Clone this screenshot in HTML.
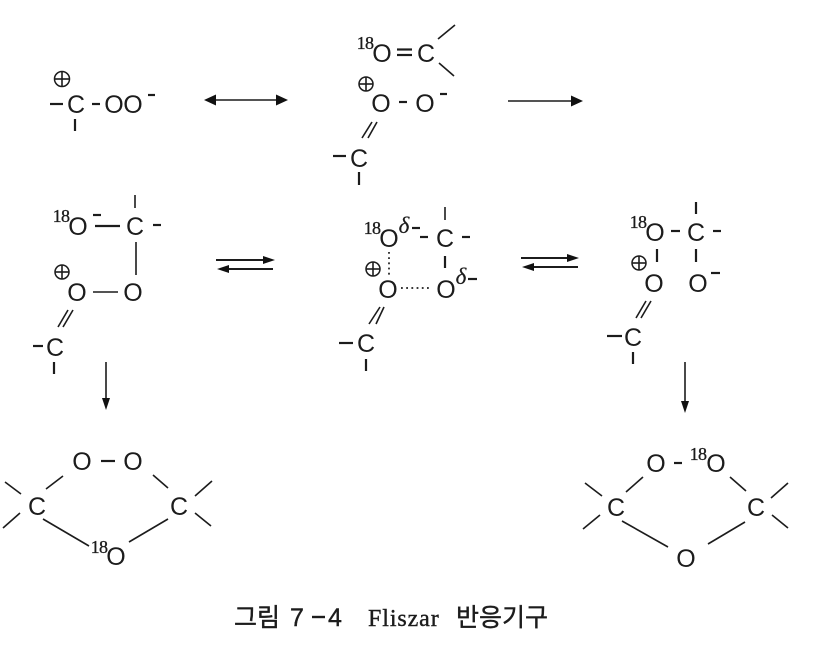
<!DOCTYPE html>
<html lang="ko">
<head>
<meta charset="utf-8">
<title>그림 7-4 Fliszar 반응기구</title>
<style>
html,body{margin:0;padding:0;background:#fff;width:838px;height:645px;overflow:hidden}
svg{display:block;filter:blur(.3px)}
line{stroke:#1c1c1c;stroke-width:1.6;fill:none}
line.h{stroke-width:2.2}
line.d{stroke-dasharray:1.8 3.4;stroke-width:1.7}
circle{stroke:#1c1c1c;stroke-width:1.5;fill:none}
polygon{fill:#111}
text{fill:#1c1c1c;font-family:"Liberation Sans",sans-serif;font-size:25px;text-anchor:middle}
text.a{transform:translateY(1px)}
text.n{font-family:"Liberation Serif",serif;font-size:18px;letter-spacing:-.6px;stroke:#1c1c1c;stroke-width:.35}
text.g{font-family:"Liberation Serif",serif;font-style:italic;font-size:23px;stroke:#1c1c1c;stroke-width:.2}
text.k{font-family:"Liberation Sans","Noto Sans CJK KR",sans-serif;font-size:25px;font-weight:400;text-anchor:start;stroke:#1c1c1c;stroke-width:.4}
text.f{font-family:"Liberation Serif",serif;font-size:24px;text-anchor:start;letter-spacing:.9px;stroke:#1c1c1c;stroke-width:.4}
</style>
</head>
<body>
<svg width="838" height="645" viewBox="0 0 838 645" xmlns="http://www.w3.org/2000/svg">
<!-- top left -->
<circle cx="62" cy="79" r="7.5"/><line x1="54.5" y1="79" x2="69.5" y2="79"/><line x1="62" y1="71.5" x2="62" y2="86.5"/>
<line class="h" x1="50" y1="104" x2="63" y2="104"/>
<text class="a" x="76" y="112">C</text>
<line class="h" x1="92" y1="104" x2="100" y2="104"/>
<text class="a" x="114" y="112">O</text><text class="a" x="133" y="112">O</text>
<line class="h" x1="148" y1="95" x2="155" y2="95"/>
<line class="h" x1="75" y1="119" x2="75" y2="131"/>
<!-- resonance arrow -->
<line x1="208" y1="100" x2="284" y2="100"/>
<polygon points="204,100 216,94.5 216,105.5"/><polygon points="288,100 276,94.5 276,105.5"/>
<!-- top middle -->
<text class="n" x="365" y="49">18</text>
<text class="a" x="382" y="61">O</text>
<line class="h" x1="397" y1="49.5" x2="412" y2="49.5"/><line class="h" x1="397" y1="55" x2="412" y2="55"/>
<text class="a" x="426" y="61">C</text>
<line x1="438" y1="39" x2="455" y2="25"/><line x1="439" y1="63" x2="454" y2="76"/>
<circle cx="366" cy="84" r="7"/><line x1="359" y1="84" x2="373" y2="84"/><line x1="366" y1="77" x2="366" y2="91"/>
<text class="a" x="381" y="111">O</text>
<line class="h" x1="399" y1="102" x2="407" y2="102"/>
<text class="a" x="425" y="111">O</text>
<line class="h" x1="440" y1="94" x2="447" y2="94"/>
<line x1="377" y1="122" x2="368" y2="138"/><line x1="372" y1="122" x2="362" y2="138"/>
<line class="h" x1="333" y1="156" x2="346" y2="156"/>
<text class="a" x="359" y="166">C</text>
<line class="h" x1="359" y1="172" x2="359" y2="185"/>
<line x1="508" y1="101" x2="575" y2="101"/><polygon points="583,101 571,95.5 571,106.5"/>
<!-- mid left -->
<text class="n" x="61" y="222">18</text>
<text class="a" x="78" y="234">O</text>
<line class="h" x1="93" y1="215" x2="101" y2="215"/>
<line class="h" x1="95" y1="226" x2="120" y2="226"/>
<text class="a" x="135" y="234">C</text>
<line x1="135" y1="195" x2="135" y2="208"/>
<line class="h" x1="153" y1="225" x2="161" y2="225"/>
<line x1="136" y1="242" x2="136" y2="275"/>
<circle cx="62" cy="272" r="7"/><line x1="55" y1="272" x2="69" y2="272"/><line x1="62" y1="265" x2="62" y2="279"/>
<text class="a" x="77" y="300">O</text>
<line x1="93" y1="292" x2="118" y2="292"/>
<text class="a" x="133" y="300">O</text>
<line x1="73" y1="310" x2="63" y2="327"/><line x1="68" y1="310" x2="58" y2="327"/>
<line class="h" x1="33" y1="346" x2="43" y2="346"/>
<text class="a" x="55" y="355">C</text>
<line class="h" x1="54" y1="362" x2="54" y2="374"/>
<line x1="106" y1="362" x2="106" y2="402"/><polygon points="106,410 102,398 110,398"/>
<!-- equilibrium 1 -->
<line class="h" x1="216" y1="260" x2="268" y2="260" style="stroke-width:1.9"/><polygon points="275,260 263,256 263,264"/>
<line class="h" x1="224" y1="269" x2="273" y2="269" style="stroke-width:1.9"/><polygon points="217,269 229,265 229,273"/>
<!-- centre -->
<text class="n" x="372" y="234">18</text>
<text class="a" x="389" y="246">O</text>
<text class="g" x="404" y="233">δ</text>
<line class="h" x1="412" y1="228" x2="420" y2="228"/>
<line class="h" x1="420" y1="237" x2="428" y2="237"/>
<text class="a" x="445" y="246">C</text>
<line x1="445" y1="207" x2="445" y2="220"/>
<line class="h" x1="462" y1="237" x2="470" y2="237"/>
<line class="d" x1="389" y1="252" x2="389" y2="275"/>
<circle cx="373" cy="269" r="7"/><line x1="366" y1="269" x2="380" y2="269"/><line x1="373" y1="262" x2="373" y2="276"/>
<line class="h" x1="445" y1="256" x2="445" y2="268"/>
<text class="a" x="388" y="297">O</text>
<line class="d" x1="401" y1="288" x2="432" y2="288"/>
<text class="a" x="446" y="297">O</text>
<text class="g" x="461" y="284">δ</text>
<line class="h" x1="468" y1="279" x2="477" y2="279"/>
<line x1="384" y1="307" x2="376" y2="324"/><line x1="380" y1="307" x2="369" y2="324"/>
<line class="h" x1="339" y1="343" x2="353" y2="343"/>
<text class="a" x="366" y="351">C</text>
<line class="h" x1="366" y1="359" x2="366" y2="371"/>
<!-- equilibrium 2 -->
<line class="h" x1="521" y1="258" x2="572" y2="258" style="stroke-width:1.9"/><polygon points="579,258 567,254 567,262"/>
<line class="h" x1="529" y1="267" x2="578" y2="267" style="stroke-width:1.9"/><polygon points="522,267 534,263 534,271"/>
<!-- right -->
<text class="n" x="638" y="228">18</text>
<text class="a" x="655" y="240">O</text>
<line class="h" x1="671" y1="231" x2="680" y2="231"/>
<text class="a" x="696" y="240">C</text>
<line class="h" x1="696" y1="202" x2="696" y2="214"/>
<line class="h" x1="713" y1="231" x2="721" y2="231"/>
<line class="h" x1="657" y1="249" x2="657" y2="262"/><line class="h" x1="696" y1="249" x2="696" y2="262"/>
<circle cx="639" cy="263" r="7"/><line x1="632" y1="263" x2="646" y2="263"/><line x1="639" y1="256" x2="639" y2="270"/>
<text class="a" x="654" y="291">O</text><text class="a" x="698" y="291">O</text>
<line class="h" x1="711" y1="273" x2="720" y2="273"/>
<line x1="651" y1="301" x2="641" y2="318"/><line x1="646" y1="301" x2="636" y2="318"/>
<line class="h" x1="607" y1="336" x2="622" y2="336"/>
<text class="a" x="633" y="345">C</text>
<line class="h" x1="633" y1="352" x2="633" y2="364"/>
<line x1="685" y1="362" x2="685" y2="405"/><polygon points="685,413 681,401 689,401"/>
<!-- bottom left -->
<text class="a" x="82" y="469">O</text>
<line class="h" x1="101" y1="461" x2="115" y2="461"/>
<text class="a" x="133" y="469">O</text>
<text class="a" x="37" y="514">C</text><text class="a" x="179" y="514">C</text>
<line x1="5" y1="482" x2="21" y2="494"/><line x1="20" y1="513" x2="3" y2="528"/>
<line x1="46" y1="489" x2="63" y2="476"/><line x1="43" y1="519" x2="89" y2="546"/>
<line x1="153" y1="475" x2="168" y2="488"/><line x1="129" y1="542" x2="168" y2="519"/>
<line x1="195" y1="496" x2="212" y2="481"/><line x1="195" y1="513" x2="211" y2="526"/>
<text class="n" x="99" y="553">18</text>
<text class="a" x="116" y="564">O</text>
<!-- bottom right -->
<text class="a" x="656" y="471">O</text>
<line class="h" x1="674" y1="463" x2="682" y2="463"/>
<text class="n" x="698" y="460">18</text>
<text class="a" x="716" y="471">O</text>
<text class="a" x="616" y="515">C</text><text class="a" x="756" y="515">C</text>
<line x1="585" y1="483" x2="602" y2="496"/><line x1="600" y1="515" x2="583" y2="529"/>
<line x1="626" y1="492" x2="643" y2="477"/><line x1="622" y1="521" x2="668" y2="547"/>
<line x1="730" y1="477" x2="746" y2="491"/><line x1="708" y1="544" x2="745" y2="522"/>
<line x1="771" y1="498" x2="788" y2="483"/><line x1="772" y1="515" x2="788" y2="528"/>
<text class="a" x="686" y="566">O</text>
<!-- caption -->
<text class="k" x="234" y="626">그림</text>
<text class="k" x="290" y="626">7</text>
<line x1="312" y1="617" x2="325" y2="617" style="stroke-width:2.4"/>
<text class="k" x="328" y="626">4</text>
<text class="f" x="368" y="626">Fliszar</text>
<text class="k" x="456" y="626">반응기구</text>
</svg>
</body>
</html>
